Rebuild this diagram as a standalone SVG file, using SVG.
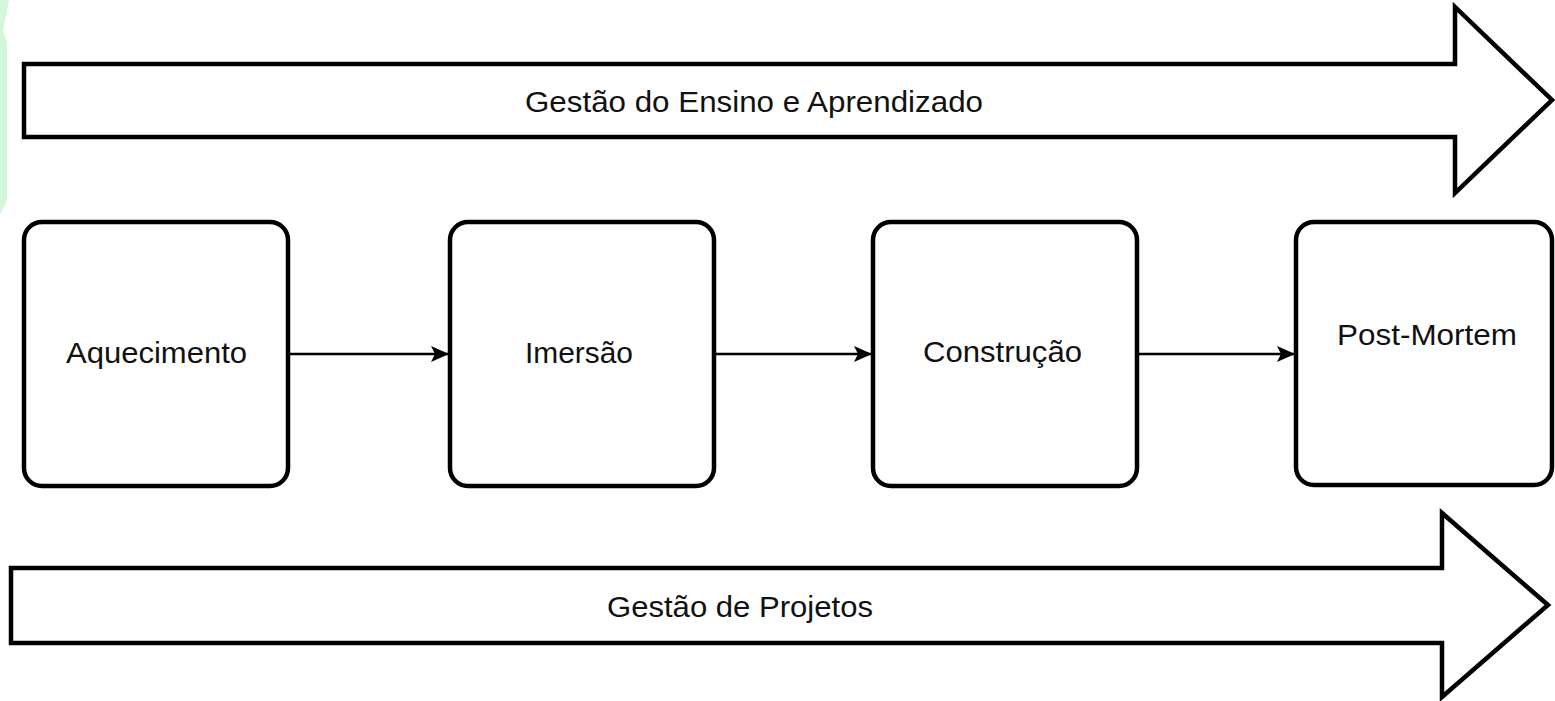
<svg xmlns="http://www.w3.org/2000/svg" width="1555" height="701" viewBox="0 0 1555 701">
<style>
.big{fill:#fff;stroke:#000;stroke-width:4.5;stroke-linejoin:miter}
.box{fill:#fff;stroke:#000;stroke-width:4.5}
.lbl{font-family:"Liberation Sans",Arial,sans-serif;font-size:29px;fill:#111}
.edge{stroke:#000;stroke-width:2.5;fill:none}
</style>
<defs>
<marker id="ah" markerUnits="userSpaceOnUse" markerWidth="22" markerHeight="18" refX="20" refY="9" orient="auto">
<path d="M2,1 L20,9 L2,17 L6,9 Z" fill="#000"/>
</marker>
</defs>
<rect width="1555" height="701" fill="#fff"/>
<path d="M0,0 L9,0 L3,30 L7,42 L7,200 L0,215 Z" fill="#d2f7da"/>
<g id="gestao-ensino">
<path class="big" d="M24,64 L1455,64 L1455,7 L1552,100 L1455,193 L1455,137 L24,137 Z"/>
<text class="lbl" x="525" y="112" textLength="458" lengthAdjust="spacingAndGlyphs">Gestão do Ensino e Aprendizado</text>
</g>
<g id="gestao-projetos">
<path class="big" d="M11,568 L1442,568 L1442,513 L1548,605 L1442,697 L1442,643 L11,643 Z"/>
<text class="lbl" x="607" y="617" textLength="266" lengthAdjust="spacingAndGlyphs">Gestão de Projetos</text>
</g>
<g id="aquecimento">
<rect class="box" x="24" y="222" width="264" height="264" rx="18"/>
<text class="lbl" x="66" y="363" textLength="181" lengthAdjust="spacingAndGlyphs">Aquecimento</text>
</g>
<g id="imersao">
<rect class="box" x="450" y="222" width="264" height="264" rx="18"/>
<text class="lbl" x="525" y="363" textLength="108" lengthAdjust="spacingAndGlyphs">Imersão</text>
</g>
<g id="construcao">
<rect class="box" x="873" y="222" width="264" height="264" rx="18"/>
<text class="lbl" x="923" y="362" textLength="159" lengthAdjust="spacingAndGlyphs">Construção</text>
</g>
<g id="post-mortem">
<rect class="box" x="1296" y="222" width="256" height="263" rx="18"/>
<text class="lbl" x="1337" y="345" textLength="180" lengthAdjust="spacingAndGlyphs">Post-Mortem</text>
</g>
<g id="connectors">
<line class="edge" x1="288" y1="354" x2="449" y2="354" marker-end="url(#ah)"/>
<line class="edge" x1="714" y1="354" x2="872" y2="354" marker-end="url(#ah)"/>
<line class="edge" x1="1137" y1="354" x2="1295" y2="354" marker-end="url(#ah)"/>
</g>
</svg>
